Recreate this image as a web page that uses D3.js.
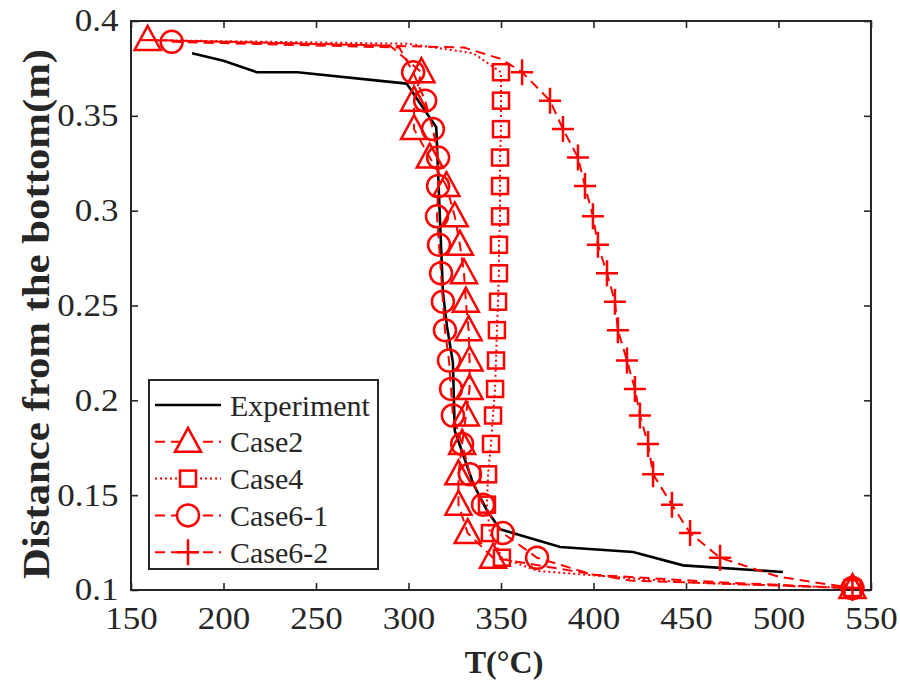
<!DOCTYPE html>
<html>
<head>
<meta charset="utf-8">
<script src="https://cdn.jsdelivr.net/npm/d3@7/dist/d3.min.js"></script>
<style>
  body { margin: 0; background: #fff; }
  text { font-family: "Liberation Serif", "DejaVu Serif", serif; fill: #262626; }
</style>
</head>
<body>
<svg id="chart" width="900" height="685"></svg>
<script>
// tick values / labels
const xTicks = [150, 200, 250, 300, 350, 400, 450, 500, 550];
const yTicks = [0.1, 0.15, 0.2, 0.25, 0.3, 0.35, 0.4];
const yTickLabels = ['0.1', '0.15', '0.2', '0.25', '0.3', '0.35', '0.4'];
const seriesNames = ['Experiment', 'Case2', 'Case4', 'Case6-1', 'Case6-2'];

// [T (°C), distance (m)] ; third value 0 = bend point without marker
const experiment = [
  [183, 0.383], [200, 0.379], [218, 0.373], [240, 0.373], [299, 0.367],
  [315, 0.344], [318.6, 0.257], [320.8, 0.239], [324, 0.220], [325, 0.184],
  [335, 0.156], [342.4, 0.142], [349.5, 0.132], [382, 0.1227], [421.4, 0.120],
  [448.4, 0.113], [502.4, 0.1095]
];

const case2 = [
  [159, 0.390], [290, 0.387, 0], [307, 0.373], [303, 0.358], [303, 0.343],
  [311.5, 0.328], [320.5, 0.313], [325, 0.297], [327.8, 0.282], [330, 0.267],
  [331, 0.252], [332.5, 0.237], [333, 0.221], [333, 0.206], [331, 0.192],
  [329, 0.177], [327, 0.161], [327, 0.145], [332, 0.130], [345.7, 0.117],
  [420, 0.105, 0], [540, 0.101]
];

const case4 = [
  [155, 0.390, 0], [300, 0.388, 0], [335, 0.383, 0], [350, 0.373], [350, 0.358],
  [350, 0.343], [349.5, 0.328], [349.5, 0.313], [349.5, 0.297], [348.9, 0.282],
  [348.9, 0.267], [348.4, 0.252], [347.8, 0.237], [347.3, 0.221], [346.8, 0.206],
  [345.7, 0.192], [344.6, 0.177], [343, 0.161], [342.4, 0.145], [344, 0.130],
  [350.5, 0.117], [370, 0.110, 0], [450, 0.104, 0], [540, 0.101]
];

const case6_1 = [
  [172, 0.389], [295, 0.386, 0], [302.5, 0.373], [309, 0.358], [313.2, 0.343],
  [316, 0.328], [316, 0.313], [315.4, 0.297], [316.5, 0.282], [317.6, 0.267],
  [318.6, 0.252], [319.7, 0.237], [321.9, 0.221], [323, 0.206], [324, 0.192],
  [329, 0.177], [333.2, 0.161], [340.3, 0.145], [351, 0.130], [369.5, 0.117],
  [400, 0.108, 0], [470, 0.104, 0], [540, 0.101]
];

const case6_2 = [
  [155, 0.390, 0], [330, 0.386, 0], [350, 0.380, 0], [361.4, 0.373], [376.5, 0.358],
  [383.5, 0.343], [391.6, 0.328], [395.4, 0.313], [399.7, 0.297], [402.4, 0.282],
  [407.3, 0.267], [411.6, 0.252], [413.2, 0.237], [418.1, 0.221], [422.4, 0.206],
  [425.1, 0.192], [429.5, 0.177], [432.2, 0.161], [442.4, 0.145], [452.2, 0.130],
  [468.4, 0.117], [500, 0.107, 0], [540, 0.101]
];

const red = '#ff0000';
const ink = '#262626';

const svg = d3.select('#chart');
const margin = { left: 131, right: 871, top: 21, bottom: 590 };

const x = d3.scaleLinear().domain([150, 550]).range([margin.left, margin.right]);
const y = d3.scaleLinear().domain([0.1, 0.4]).range([margin.bottom, margin.top]);

// axes with inward ticks on all four sides
const tickLen = 7;
const axes = [
  { axis: d3.axisBottom(x).tickValues(xTicks).tickFormat(d3.format('d')), t: `translate(0,${margin.bottom})`, pad: 17 },
  { axis: d3.axisTop(x).tickValues(xTicks).tickFormat(''), t: `translate(0,${margin.top})`, pad: 10 },
  { axis: d3.axisLeft(y).tickValues(yTicks).tickFormat((d, i) => yTickLabels[i]), t: `translate(${margin.left},0)`, pad: 11 },
  { axis: d3.axisRight(y).tickValues(yTicks).tickFormat(''), t: `translate(${margin.right},0)`, pad: 10 }
];

axes.forEach((a) => {
  const g = svg.append('g')
    .attr('transform', a.t)
    .call(a.axis.tickSizeInner(-tickLen).tickSizeOuter(0).tickPadding(a.pad));
  g.select('.domain').remove();
  g.selectAll('line').attr('stroke', ink).attr('stroke-width', 1.6);
  g.selectAll('text')
    .attr('font-size', 31)
    .attr('fill', ink)
    .attr('transform', 'scale(1.13,1)');
});

// frame
svg.append('rect')
  .attr('x', margin.left).attr('y', margin.top)
  .attr('width', margin.right - margin.left).attr('height', margin.bottom - margin.top)
  .attr('fill', 'none').attr('stroke', ink).attr('stroke-width', 2);

// axis titles
svg.append('text')
  .attr('x', 504).attr('y', 673)
  .attr('text-anchor', 'middle').attr('font-size', 32).attr('font-weight', 'bold')
  .text('T(°C)');

svg.append('text')
  .attr('transform', 'translate(49,314) rotate(-90)')
  .attr('text-anchor', 'middle').attr('font-size', 38).attr('font-weight', 'bold')
  .attr('textLength', 530).attr('lengthAdjust', 'spacingAndGlyphs')
  .text('Distance from the bottom(m)');

// marker shapes
const markers = {
  triangle: (g) => g.append('path').attr('d', 'M0,-14L13,10L-13,10Z'),
  square: (g) => g.append('rect').attr('x', -8).attr('y', -8).attr('width', 16).attr('height', 16),
  circle: (g) => g.append('circle').attr('r', 11),
  plus: (g) => g.append('path').attr('d', 'M-11,0H11M0,-13V13'),
  none: () => {}
};

const series = [
  { name: seriesNames[0], data: experiment, color: '#000', width: 2.6, dash: null, marker: 'none' },
  { name: seriesNames[1], data: case2, color: red, width: 2, dash: '10,6', marker: 'triangle' },
  { name: seriesNames[2], data: case4, color: red, width: 2, dash: '2,3', marker: 'square' },
  { name: seriesNames[3], data: case6_1, color: red, width: 2, dash: '10,6', marker: 'circle' },
  { name: seriesNames[4], data: case6_2, color: red, width: 2, dash: '10,6', marker: 'plus' }
];

const line = d3.line().x((d) => x(d[0])).y((d) => y(d[1]));

const plot = svg.append('g');

series.forEach((s) => {
  plot.append('path')
    .attr('d', line(s.data))
    .attr('fill', 'none')
    .attr('stroke', s.color)
    .attr('stroke-width', s.width)
    .attr('stroke-dasharray', s.dash);

  plot.selectAll(null)
    .data(s.data.filter((d) => d[2] !== 0))
    .enter().append('g')
    .attr('transform', (d) => `translate(${x(d[0])},${y(d[1])})`)
    .each(function () {
      markers[s.marker](d3.select(this));
    })
    .selectAll('*')
    .attr('fill', 'none')
    .attr('stroke', s.color)
    .attr('stroke-width', 2.5);
});

// legend
const legend = svg.append('g').attr('transform', 'translate(149,380)');
legend.append('rect')
  .attr('width', 229).attr('height', 189)
  .attr('fill', '#fff').attr('stroke', ink).attr('stroke-width', 2);

series.forEach((s, i) => {
  const row = legend.append('g').attr('transform', `translate(0,${25 + i * 36.8})`);
  row.append('line')
    .attr('x1', 6).attr('x2', 72)
    .attr('stroke', s.color).attr('stroke-width', s.width)
    .attr('stroke-dasharray', s.dash);
  const m = row.append('g').attr('transform', 'translate(39,0)');
  markers[s.marker](m);
  m.selectAll('*').attr('fill', s.marker === 'none' ? null : '#fff')
    .attr('stroke', s.color).attr('stroke-width', 2.5);
  row.append('text')
    .attr('x', 81).attr('dy', '0.35em')
    .attr('font-size', 30)
    .text(s.name);
});
</script>
</body>
</html>
